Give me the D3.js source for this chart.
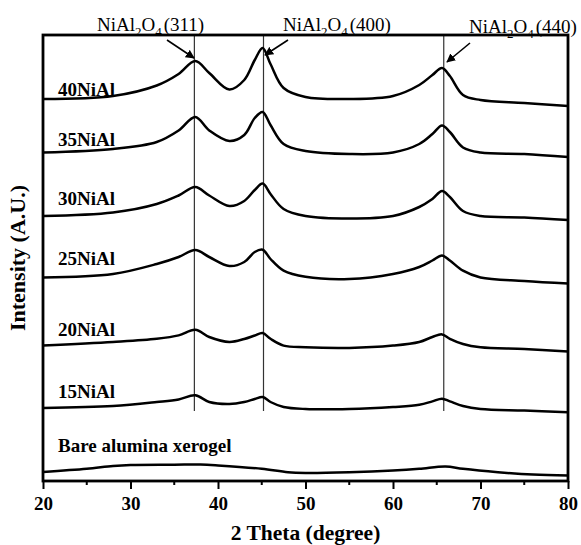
<!DOCTYPE html>
<html><head><meta charset="utf-8">
<script src="https://cdn.jsdelivr.net/npm/d3@7"></script>
<style>body{margin:0;background:#fff}svg{display:block}</style>
</head><body><svg id="c" width="581" height="545"></svg>
<script>
// ---------- data (2θ in degrees, intensity in stacked arbitrary units) ----------
const twoTheta = [20, 28, 33, 35.5, 37.4, 39, 41.3, 43, 44.2, 45.1, 46, 47.5, 50, 55, 60, 63, 64.5, 65.6, 66.5, 68, 70, 75, 80];
const ni40 = [3820, 3850, 3955, 4070, 4200, 4080, 3915, 4010, 4210, 4330, 4170, 3930, 3840, 3820, 3850, 3960, 4060, 4130, 4050, 3860, 3810, 3780, 3750];
const ni35 = [3285, 3320, 3390, 3505, 3640, 3505, 3400, 3460, 3630, 3690, 3560, 3370, 3300, 3270, 3285, 3370, 3470, 3556, 3490, 3335, 3285, 3270, 3240];
const ni30 = [2650, 2685, 2770, 2855, 2940, 2855, 2750, 2800, 2910, 2974, 2870, 2720, 2650, 2625, 2650, 2740, 2820, 2900, 2840, 2700, 2650, 2635, 2610];
const ni25 = [2035, 2070, 2170, 2240, 2310, 2240, 2150, 2190, 2290, 2313, 2220, 2103, 2042, 2020, 2070, 2140, 2205, 2256, 2205, 2103, 2035, 2000, 1975];
const ni20 = [1354, 1390, 1422, 1456, 1513, 1440, 1390, 1420, 1455, 1480, 1422, 1354, 1337, 1330, 1354, 1390, 1440, 1466, 1422, 1370, 1337, 1320, 1296];
const ni15 = [730, 750, 790, 816, 857, 790, 770, 790, 820, 840, 790, 740, 720, 720, 740, 762, 796, 823, 796, 750, 720, 704, 687];
const bareTheta = [20, 25, 28, 30, 35, 38, 40, 45, 48, 50, 55, 60, 63, 66, 68, 72, 76, 80];
const bareAlumina = [90, 122, 150, 160, 163, 165, 156, 122, 88, 81, 88, 105, 122, 146, 122, 88, 64, 54];
const seriesNames = ["40NiAl", "35NiAl", "30NiAl", "25NiAl", "20NiAl", "15NiAl", "Bare alumina xerogel"];
const peakPositions = [37.3, 45.2, 65.8];
const peakPlanes = ["(311)", "(400)", "(440)"];
const xTicks = [20, 30, 40, 50, 60, 70, 80];
const xMinorTicks = [25, 35, 45, 55, 65, 75];
const xTitle = "2 Theta (degree)";
const yTitle = "Intensity (A.U.)";

// ---------- layout ----------
const L = 43, R = 568, T = 35, B = 481;
const labelLift = [3, 7, 11, 13, 10, 10, 20];
const peakLineBottom = 411;
const annot = [
  {tx: 97, ty: 31, from: [167, 40], to: [194, 58]},
  {tx: 283, ty: 31, from: [288, 40], to: [265, 55]},
  {tx: 469, ty: 33, from: [470, 43], to: [447, 62]}
];
const serif = "'Liberation Serif','Times New Roman',serif";

const svg = d3.select("#c");
const x = d3.scaleLinear().domain([20, 80]).range([L, R]);
const y = d3.scaleLinear().domain([0, 4460]).range([B, T]);

const series = [ni40, ni35, ni30, ni25, ni20, ni15].map((v, i) => ({name: seriesNames[i], pts: twoTheta.map((t, j) => [t, v[j]])}));
series.push({name: seriesNames[6], pts: bareTheta.map((t, j) => [t, bareAlumina[j]])});

// peak reference lines
svg.append("g").selectAll("line").data(peakPositions).join("line")
  .attr("x1", d => x(d)).attr("x2", d => x(d))
  .attr("y1", T).attr("y2", peakLineBottom)
  .attr("stroke", "#333").attr("stroke-width", 1.2);

const line = d3.line().x(d => x(d[0])).y(d => y(d[1])).curve(d3.curveCatmullRom.alpha(0.5));
svg.append("g").selectAll("path").data(series).join("path")
  .attr("d", d => line(d.pts))
  .attr("fill", "none").attr("stroke", "#000").attr("stroke-width", 2.5)
  .attr("stroke-linejoin", "round");

// series labels
svg.append("g").selectAll("text").data(series).join("text")
  .attr("x", 58)
  .attr("y", (d, i) => y(d.pts[0][1]) - labelLift[i])
  .attr("font-family", serif).attr("font-weight", "bold").attr("font-size", 19)
  .text(d => d.name);

// frame
svg.append("rect").attr("x", L).attr("y", T).attr("width", R - L).attr("height", B - T)
  .attr("fill", "none").attr("stroke", "#000").attr("stroke-width", 2.8);

// x axis
const ax = svg.append("g").attr("transform", `translate(0,${B})`)
  .call(d3.axisBottom(x).tickValues(xTicks).tickSize(8).tickPadding(8).tickFormat(d3.format("d")));
ax.select(".domain").remove();
ax.selectAll(".tick line").attr("stroke-width", 2);
ax.selectAll("text").attr("font-family", serif).attr("font-weight", "bold").attr("font-size", 19).attr("fill", "#000");
svg.append("g").selectAll("line").data(xMinorTicks).join("line")
  .attr("x1", d => x(d)).attr("x2", d => x(d)).attr("y1", B).attr("y2", B + 4)
  .attr("stroke", "#000").attr("stroke-width", 2);

// axis titles
svg.append("text").attr("x", (L + R) / 2).attr("y", 540).attr("text-anchor", "middle")
  .attr("font-family", serif).attr("font-weight", "bold").attr("font-size", 21.5).text(xTitle);
svg.append("text").attr("transform", `translate(25,${(T + B) / 2}) rotate(-90)`).attr("text-anchor", "middle")
  .attr("font-family", serif).attr("font-weight", "bold").attr("font-size", 22).text(yTitle);

// annotations
svg.append("defs").append("marker").attr("id", "ah").attr("viewBox", "0 0 10 10")
  .attr("refX", 9).attr("refY", 5).attr("markerWidth", 9).attr("markerHeight", 9)
  .attr("markerUnits", "userSpaceOnUse").attr("orient", "auto")
  .append("path").attr("d", "M0,0L10,5L0,10z").attr("fill", "#000");
annot.forEach((a, i) => {
  const t = svg.append("text").attr("x", a.tx).attr("y", a.ty)
    .attr("font-family", serif).attr("font-size", 19);
  t.append("tspan").text("NiAl");
  t.append("tspan").attr("font-size", 13).attr("dy", 5).text("2");
  t.append("tspan").attr("dy", -5).text("O");
  t.append("tspan").attr("font-size", 13).attr("dy", 5).text("4");
  t.append("tspan").attr("dy", -5).attr("dx", 2).text(peakPlanes[i]);
  svg.append("line").attr("x1", a.from[0]).attr("y1", a.from[1]).attr("x2", a.to[0]).attr("y2", a.to[1])
    .attr("stroke", "#000").attr("stroke-width", 1.6).attr("marker-end", "url(#ah)");
});
</script>
</body></html>
